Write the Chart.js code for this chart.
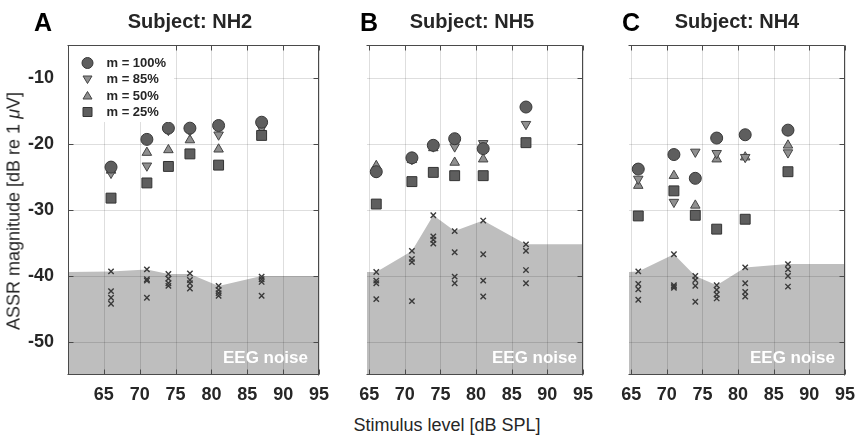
<!DOCTYPE html>
<html><head><meta charset="utf-8">
<script src="https://cdn.jsdelivr.net/npm/chart.js@4.4.0/dist/chart.umd.min.js"></script>
<style>
body{margin:0;width:857px;height:436px;background:#fff;position:relative;overflow:hidden;font-family:'Liberation Sans',Arial,sans-serif;}
canvas{position:absolute;top:0;}
.t{position:absolute;white-space:nowrap;color:#262626;transform:translate(-50%,-50%);}
</style></head><body>
<canvas id="cA" width="334" height="410" style="left:0px"></canvas>
<canvas id="cB" width="243" height="410" style="left:355px"></canvas>
<canvas id="cC" width="242" height="410" style="left:615px"></canvas>

<div class="t" style="left:43px;top:22px;font-size:25px;font-weight:bold;color:#000">A</div>
<div class="t" style="left:190px;top:21px;font-size:20px;font-weight:bold">Subject: NH2</div>
<div class="t" style="left:369px;top:22px;font-size:25px;font-weight:bold;color:#000">B</div>
<div class="t" style="left:472px;top:21px;font-size:20px;font-weight:bold">Subject: NH5</div>
<div class="t" style="left:631px;top:22px;font-size:25px;font-weight:bold;color:#000">C</div>
<div class="t" style="left:737px;top:21px;font-size:20px;font-weight:bold">Subject: NH4</div>
<div class="t" style="left:14px;top:211px;font-size:18px;transform:translate(-50%,-50%) rotate(-90deg)">ASSR magnitude [dB re 1 <i>μ</i>V]</div>
<div class="t" style="left:447px;top:425px;font-size:18px">Stimulus level [dB SPL]</div>

<script>
// ---- shared axes ----
const levels = [66, 71, 74, 77, 81, 87];
const xTicks = [65, 70, 75, 80, 85, 90, 95];
const yTicks = [-50, -40, -30, -20, -10];
const legendLabels = ['m = 100%', 'm = 85%', 'm = 50%', 'm = 25%'];
const noiseLabel = 'EEG noise';

// ---- Subject NH2 (A) ----
const nh2_m100 = [-23.5, -19.3, -17.6, -17.6, -17.2, -16.7];
const nh2_m85  = [-24.4, -23.3, -17.9, -18.0, -18.6, -17.6];
const nh2_m50  = [-24.0, -21.3, -20.9, -19.4, -20.8, -18.0];
const nh2_m25  = [-28.2, -25.9, -23.4, -21.5, -23.2, -18.7];
const nh2_noise = [[-39.3, -42.3, -43.3, -44.2], [-39.0, -40.5, -40.7, -43.3], [-39.7, -40.4, -41.1, -41.5],
                   [-39.6, -40.6, -41.1, -41.9], [-41.5, -42.1, -42.6, -43.0], [-40.1, -40.5, -40.9, -43.0]];
const nh2_floorLevels = [60, 66, 71, 74, 77, 81, 87, 95];
const nh2_floor = [-39.4, -39.3, -39.0, -39.7, -39.7, -41.5, -40.0, -40.0];

// ---- Subject NH5 (B) ----
const nh5_m100 = [-24.2, -22.1, -20.2, -19.2, -20.7, -14.4];
const nh5_m85  = [-24.3, -22.3, -20.4, -20.4, -19.9, -17.0];
const nh5_m50  = [-23.3, -22.4, -20.6, -22.8, -22.3, -19.9];
const nh5_m25  = [-29.1, -25.7, -24.3, -24.8, -24.8, -19.8];
const nh5_noise = [[-39.4, -40.7, -41.1, -43.5], [-36.2, -37.4, -37.9, -43.8], [-30.8, -34.0, -34.5, -35.1],
                   [-33.2, -36.4, -40.1, -41.1], [-31.6, -36.7, -40.7, -43.1], [-35.2, -36.2, -39.1, -41.1]];
const nh5_floorLevels = [64.7, 66, 71, 74, 77, 81, 87, 95];
const nh5_floor = [-39.4, -39.4, -36.2, -30.8, -33.2, -31.6, -35.2, -35.2];

// ---- Subject NH4 (C) ----
const nh4_m100 = [-23.8, -21.6, -25.2, -19.1, -18.6, -17.9];
const nh4_m85  = [-25.3, -28.8, -21.2, -21.4, -22.0, -21.3];
const nh4_m50  = [-26.3, -24.8, -29.3, -22.3, -22.0, -20.2];
const nh4_m25  = [-30.9, -27.1, -30.8, -32.9, -31.4, -24.2];
const nh4_noise = [[-39.3, -41.2, -42.0, -43.6], [-36.7, -41.4, -41.6, -41.8], [-40.0, -40.6, -41.5, -43.9],
                   [-41.4, -42.1, -42.8, -43.4], [-38.7, -41.1, -42.4, -43.1], [-38.2, -39.0, -40.0, -41.6]];
const nh4_floorLevels = [64.7, 66, 71, 74, 77, 81, 87, 95];
const nh4_floor = [-39.4, -39.3, -36.7, -40.0, -41.4, -38.7, -38.2, -38.2];

const FONT = "'Liberation Sans', Arial, sans-serif";
const TXT = '#262626';
const AX = '#4a4a4a';
const DARK = '#5e5e5e', LIGHT = '#8f8f8f';

function drawSym(ctx, kind, x, y) {
  ctx.save();
  ctx.lineWidth = 1;
  ctx.beginPath();
  if (kind === 0) { ctx.arc(x, y, 5.5, 0, Math.PI * 2); ctx.fillStyle = DARK; ctx.strokeStyle = '#383838'; }
  else if (kind === 1) { ctx.moveTo(x - 4.5, y - 3); ctx.lineTo(x + 4.5, y - 3); ctx.lineTo(x, y + 4.5); ctx.closePath(); ctx.fillStyle = LIGHT; ctx.strokeStyle = '#444'; }
  else if (kind === 2) { ctx.moveTo(x - 4.5, y + 3); ctx.lineTo(x + 4.5, y + 3); ctx.lineTo(x, y - 4.5); ctx.closePath(); ctx.fillStyle = LIGHT; ctx.strokeStyle = '#444'; }
  else { ctx.rect(x - 4.5, y - 4.5, 9, 9); ctx.fillStyle = DARK; ctx.strokeStyle = '#333'; }
  ctx.fill(); ctx.stroke();
  ctx.restore();
}

function makePanel(id, p) {
  const pts = arr => levels.map((x, i) => ({ x, y: arr[i] }));
  const noisePts = levels.flatMap((x, i) => p.noise[i].map(y => ({ x, y })));
  const floorPts = p.floorLevels.map((x, i) => ({ x, y: p.floor[i] }));
  const plugin = {
    id: 'panelDeco' + id,
    afterDatasetDraw(chart, args) {
      if (!chart.data.datasets[args.index].isFloor) return;
      const { ctx, chartArea: a, scales: { x, y } } = chart;
      ctx.save();
      ctx.strokeStyle = 'rgba(0,0,0,0.13)';
      ctx.lineWidth = 1;
      xTicks.forEach(v => { const px = Math.round(x.getPixelForValue(v)) + 0.5; ctx.beginPath(); ctx.moveTo(px, a.top); ctx.lineTo(px, a.bottom); ctx.stroke(); });
      yTicks.forEach(v => { const py = Math.round(y.getPixelForValue(v)) + 0.5; ctx.beginPath(); ctx.moveTo(a.left, py); ctx.lineTo(a.right, py); ctx.stroke(); });
      ctx.restore();
    },
    afterDatasetsDraw(chart) {
      const { ctx, chartArea: a, scales: { x, y } } = chart;
      ctx.save();
      ctx.strokeStyle = AX; ctx.lineWidth = 1;
      const L = Math.round(a.left) + 0.5, R = Math.round(a.right) - 0.5, T = Math.round(a.top) + 0.5, B = Math.round(a.bottom) - 0.5;
      ctx.beginPath();
      ctx.moveTo(L - 1, T); ctx.lineTo(R, T); ctx.lineTo(R, B + 1);
      ctx.moveTo(L - 1, B); ctx.lineTo(R, B);
      if (p.leftAxis) { ctx.moveTo(L, T); ctx.lineTo(L, B); }
      xTicks.forEach(v => { const px = Math.round(x.getPixelForValue(v)) + 0.5; ctx.moveTo(px, B); ctx.lineTo(px, B - 5); ctx.moveTo(px, T); ctx.lineTo(px, T + 5); });
      yTicks.forEach(v => { const py = Math.round(y.getPixelForValue(v)) + 0.5; ctx.moveTo(R, py); ctx.lineTo(R - 5, py); if (p.leftAxis) { ctx.moveTo(L, py); ctx.lineTo(L + 5, py); } });
      ctx.stroke();
      if (p.legend) {
        ctx.fillStyle = '#fff';
        ctx.fillRect(L + 0.5, T + 0.5, 105, 76);
        ctx.font = 'bold 13px ' + FONT; ctx.textBaseline = 'middle'; ctx.textAlign = 'left';
        const rows = [63, 79, 96, 112];
        legendLabels.forEach((lab, i) => {
          drawSym(ctx, i, L + 19, rows[i]);
          ctx.fillStyle = TXT; ctx.fillText(lab, L + 38, rows[i] + 0.5);
        });
      }
      ctx.fillStyle = '#fff';
      ctx.font = 'bold 17px ' + FONT; ctx.textAlign = 'right'; ctx.textBaseline = 'alphabetic';
      ctx.fillText(noiseLabel, a.right - p.noiseRight, 363);
      ctx.restore();
    }
  };
  return new Chart(document.getElementById(id), {
    type: 'scatter',
    data: {
      datasets: [
        { label: legendLabels[0], data: pts(p.m100), pointStyle: 'circle', pointRadius: 6, pointBackgroundColor: DARK, pointBorderColor: '#383838', pointBorderWidth: 1, order: 1 },
        { label: legendLabels[1], data: pts(p.m85), pointStyle: 'triangle', pointRotation: 180, pointRadius: 5.5, pointBackgroundColor: LIGHT, pointBorderColor: '#444', pointBorderWidth: 1, order: 3 },
        { label: legendLabels[2], data: pts(p.m50), pointStyle: 'triangle', pointRadius: 5.5, pointBackgroundColor: LIGHT, pointBorderColor: '#444', pointBorderWidth: 1, order: 4 },
        { label: legendLabels[3], data: pts(p.m25), pointStyle: 'rect', pointRadius: 7, pointBackgroundColor: DARK, pointBorderColor: '#333', pointBorderWidth: 1, order: 2 },
        { label: 'noise', data: noisePts, pointStyle: 'crossRot', pointRadius: 3.8, pointBorderColor: '#3a3a3a', pointBorderWidth: 1.4, order: 5 },
        { type: 'line', label: 'floor', isFloor: true, data: floorPts, showLine: true, fill: 'start', backgroundColor: '#bebebe', borderColor: 'rgba(0,0,0,0)', borderWidth: 0, pointRadius: 0, tension: 0, order: 6 }
      ]
    },
    options: {
      responsive: false, animation: false, events: [],
      layout: { padding: { left: p.padLeft, top: 45, right: p.padRight, bottom: 0 } },
      plugins: { legend: { display: false }, tooltip: { enabled: false } },
      scales: {
        x: {
          type: 'linear', min: p.xMin, max: 95,
          grid: { display: false }, border: { display: false },
          afterBuildTicks: s => { s.ticks = xTicks.map(v => ({ value: v })); },
          afterFit: s => { s.height = 35; },
          ticks: { autoSkip: false, maxRotation: 0, padding: 1, color: TXT, font: { family: FONT, size: 18, weight: 'bold' } }
        },
        y: {
          type: 'linear', min: -55, max: -5, display: p.showY,
          grid: { display: false }, border: { display: false },
          afterBuildTicks: s => { s.ticks = yTicks.map(v => ({ value: v })); },
          afterFit: s => { s.width = p.showY ? 68 : 0; },
          ticks: { padding: 6, color: TXT, font: { family: FONT, size: 18, weight: 'bold' } }
        }
      }
    },
    plugins: [plugin]
  });
}

makePanel('cA', { xMin: 60, showY: true, padLeft: 0, padRight: 15, leftAxis: true, legend: true, noiseRight: 11,
  m100: nh2_m100, m85: nh2_m85, m50: nh2_m50, m25: nh2_m25, noise: nh2_noise, floorLevels: nh2_floorLevels, floor: nh2_floor });
makePanel('cB', { xMin: 64.7, showY: false, padLeft: 12, padRight: 15, leftAxis: false, legend: false, noiseRight: 6,
  m100: nh5_m100, m85: nh5_m85, m50: nh5_m50, m25: nh5_m25, noise: nh5_noise, floorLevels: nh5_floorLevels, floor: nh5_floor });
makePanel('cC', { xMin: 64.7, showY: false, padLeft: 14, padRight: 12, leftAxis: false, legend: false, noiseRight: 10,
  m100: nh4_m100, m85: nh4_m85, m50: nh4_m50, m25: nh4_m25, noise: nh4_noise, floorLevels: nh4_floorLevels, floor: nh4_floor });
</script>
</body></html>
